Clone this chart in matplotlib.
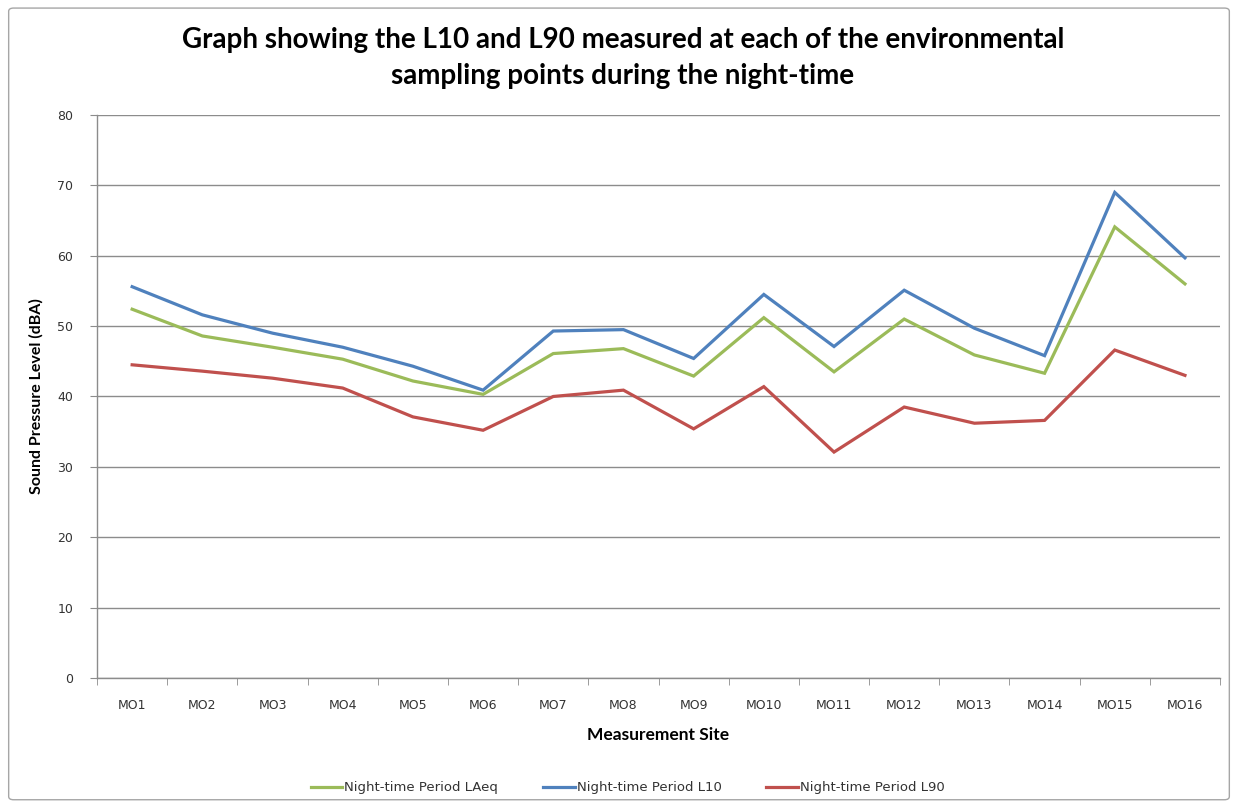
import matplotlib
matplotlib.use("Agg")
import matplotlib.pyplot as plt
from matplotlib.patches import FancyBboxPatch
from matplotlib.ticker import FixedLocator, MultipleLocator
import numpy as np

sites = ["MO1", "MO2", "MO3", "MO4", "MO5", "MO6", "MO7", "MO8",
         "MO9", "MO10", "MO11", "MO12", "MO13", "MO14", "MO15", "MO16"]

laeq = [52.4, 48.6, 47.0, 45.3, 42.2, 40.3, 46.1, 46.8,
        42.9, 51.2, 43.5, 51.0, 45.9, 43.3, 64.1, 56.0]
l10 = [55.6, 51.6, 49.0, 47.0, 44.3, 40.9, 49.3, 49.5,
       45.4, 54.5, 47.1, 55.1, 49.7, 45.8, 69.0, 59.7]
l90 = [44.5, 43.6, 42.6, 41.2, 37.1, 35.2, 40.0, 40.9,
       35.4, 41.4, 32.1, 38.5, 36.2, 36.6, 46.6, 43.0]

series_names = ["Night-time Period LAeq", "Night-time Period L10", "Night-time Period L90"]
colors = ["#9BBB59", "#4F81BD", "#C0504D"]

fig = plt.figure(figsize=(12.38, 8.07), dpi=100)
ax = fig.add_axes([0.0784, 0.1599, 0.9071, 0.6976])

# outer chart border
fig.patches.append(FancyBboxPatch((0.007, 0.009), 0.986, 0.981,
                                  boxstyle="round,pad=0,rounding_size=0.004",
                                  transform=fig.transFigure, fill=False,
                                  edgecolor="#a6a6a6", linewidth=1.0))

x = np.arange(len(sites))
for vals, name, c in zip([laeq, l10, l90], series_names, colors):
    ax.plot(x, vals, color=c, linewidth=2.3, label=name, solid_joinstyle="miter")

ax.set_xlim(-0.5, len(sites) - 0.5)
ax.set_ylim(0, 80)
ax.yaxis.set_major_locator(MultipleLocator(10))
ax.grid(axis="y", color="#8c8c8c", linewidth=1.0)
ax.set_axisbelow(True)

ax.set_xticks(x)
ax.set_xticklabels(sites)
ax.xaxis.set_minor_locator(FixedLocator(np.arange(-0.5, len(sites), 1.0)))
ax.tick_params(axis="x", which="major", length=0, pad=15, labelsize=9, labelcolor="#333333")
ax.tick_params(axis="x", which="minor", length=5, color="#8c8c8c", direction="out")
ax.tick_params(axis="y", length=5, color="#8c8c8c", direction="out", pad=12,
               labelsize=9, labelcolor="#333333")

for s in ["top", "right"]:
    ax.spines[s].set_visible(False)
for s in ["left", "bottom"]:
    ax.spines[s].set_color("#8c8c8c")
    ax.spines[s].set_linewidth(1.0)

ax.set_xlabel("Measurement Site", fontsize=12.5, fontweight="bold", family="Lato", labelpad=11)
ax.set_ylabel("Sound Pressure Level (dBA)", fontsize=11.5, fontweight="bold", family="Lato", labelpad=10)

fig.text(0.503, 0.950, "Graph showing the L10 and L90 measured at each of the environmental",
         ha="center", va="center", fontsize=20, fontweight="bold", family="Lato")
fig.text(0.503, 0.906, "sampling points during the night-time",
         ha="center", va="center", fontsize=20, fontweight="bold", family="Lato")

fig.legend(loc="center", bbox_to_anchor=(0.507, 0.024), ncol=3, frameon=False,
           fontsize=9.5, handlelength=2.4, handletextpad=0.15, columnspacing=3.4,
           labelcolor="#333333")

fig.savefig("out.png", dpi=100)
